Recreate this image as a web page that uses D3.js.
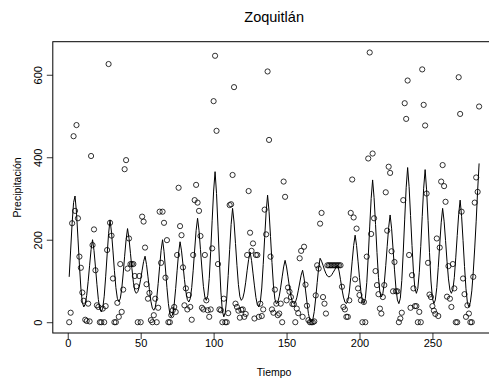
<!DOCTYPE html>
<html>
<head>
<meta charset="utf-8">
<script src="https://cdnjs.cloudflare.com/ajax/libs/d3/7.8.5/d3.min.js"></script>
<style>
body { margin: 0; background: #fff; }
svg { display: block; }
text { font-family: "Liberation Sans", Arial, sans-serif; fill: #000; }
</style>
</head>
<body>
<div id="chart"></div>
<script>
// monthly precipitation (observed), one value per time step
var precip = [
  0, 23, 240, 451, 270, 478, 252, 159, 132, 72,
  52, 6, 3, 45, 2, 403, 187, 225, 126, 41,
  37, 0, 0, 33, 0, 39, 175, 626, 241, 210,
  106, 0, 0, 47, 13, 141, 25, 79, 371, 393,
  130, 203, 141, 141, 141, 112, 87, 0, 112, 0,
  256, 244, 181, 92, 57, 71, 5, 0, 17, 57,
  0, 35, 268, 144, 268, 241, 108, 199, 0, 0,
  17, 29, 37, 25, 163, 326, 233, 211, 133, 41,
  82, 31, 66, 37, 6, 163, 296, 333, 290, 270,
  209, 35, 31, 163, 53, 29, 13, 31, 179, 536,
  646, 464, 141, 31, 29, 0, 57, 0, 0, 22,
  284, 286, 357, 570, 45, 37, 28, 11, 30, 31,
  13, 20, 163, 318, 217, 173, 191, 9, 163, 163,
  13, 45, 15, 31, 273, 213, 608, 442, 159, 31,
  23, 79, 45, 17, 21, 45, 0, 341, 304, 53,
  84, 74, 61, 44, 44, 0, 33, 22, 155, 173,
  13, 183, 91, 40, 5, 0, 0, 0, 2, 65,
  138, 130, 239, 265, 61, 45, 21, 138, 138, 138,
  138, 138, 138, 138, 138, 138, 138, 86, 37, 31,
  13, 13, 53, 265, 346, 254, 104, 227, 82, 66,
  53, 0, 49, 0, 159, 397, 654, 214, 409, 252,
  124, 90, 68, 33, 21, 61, 90, 315, 222, 377,
  362, 172, 75, 146, 75, 75, 0, 9, 23, 296,
  531, 493, 586, 163, 35, 114, 82, 39, 39, 0,
  25, 0, 613, 527, 477, 312, 144, 67, 61, 39,
  28, 20, 203, 15, 181, 341, 381, 330, 292, 62,
  136, 57, 37, 141, 82, 0, 0, 594, 505, 268,
  106, 68, 13, 41, 21, 0, 0, 110, 290, 351,
  316, 523
];

// fitted seasonal curve, same time steps
var fitted = [
  110, 175, 240, 290, 306,
  266, 204, 139, 83, 48, 37,
  44, 65, 99, 138, 176, 200,
  174, 134, 92, 55, 32, 25,
  34, 63, 110, 163, 215, 248,
  218, 173, 125, 84, 58, 50,
  57, 80, 117, 160, 200, 227,
  203, 167, 130, 97, 76, 70,
  74, 85, 104, 126, 147, 160,
  140, 110, 79, 51, 34, 29,
  36, 58, 94, 135, 174, 200,
  172, 129, 84, 45, 20, 13,
  20, 44, 82, 126, 168, 195,
  173, 140, 104, 74, 55, 49,
  57, 84, 126, 175, 222, 252,
  222, 176, 129, 87, 61, 53,
  65, 106, 172, 246, 318, 365,
  312, 231, 147, 73, 27, 13,
  24, 58, 113, 176, 237, 276,
  243, 191, 138, 91, 62, 53,
  58, 73, 97, 126, 152, 170,
  150, 119, 88, 60, 42, 37,
  48, 83, 140, 205, 267, 308,
  269, 208, 145, 90, 56, 45,
  49, 63, 85, 110, 134, 150,
  134, 110, 85, 63, 49, 45,
  48, 59, 76, 95, 114, 126,
  107, 78, 48, 21, 5, 0,
  6, 26, 59, 96, 132, 155,
  148, 138, 127, 118, 112, 110,
  111, 115, 121, 127, 134, 138,
  124, 103, 80, 61, 49, 45,
  52, 73, 108, 148, 186, 211,
  186, 148, 108, 73, 52, 45,
  57, 96, 159, 231, 300, 345,
  302, 237, 169, 109, 72, 61,
  69, 95, 137, 184, 230, 260,
  228, 178, 127, 82, 54, 45,
  58, 101, 170, 250, 326, 375,
  329, 259, 186, 122, 82, 70,
  82, 121, 184, 256, 325, 370,
  321, 247, 169, 100, 58, 45,
  54, 84, 133, 188, 241, 276,
  245, 198, 148, 105, 78, 70,
  79, 108, 156, 210, 262, 296,
  257, 198, 135, 81, 47, 37,
  48, 76, 122, 180, 245, 320,
  385
];

var xTicks = [0, 50, 100, 150, 200, 250];
var yTicks = [0, 200, 400, 600];
var title = "Zoquitlán";
var xLabel = "Tiempo";
var yLabel = "Precipitación";

var width = 489, height = 385;
// plot region (right edge runs past the window, as in the original)
var plotL = 52.8, plotR = 495.5, plotT = 41.7, plotB = 333;

var n = precip.length;
var data = precip.map(function(d, i) { return {t: i + 1, v: d, f: fitted[i]}; });

var svg = d3.select("#chart")
  .append("svg")
  .attr("width", width)
  .attr("height", height);

// R style 4% padding on both axes
var xr = n - 1;
var x = d3.scaleLinear()
  .domain([1 - 0.04 * xr, n + 0.04 * xr])
  .range([plotL, plotR]);

var ymax = d3.max(precip), ymin = d3.min(precip);
var yr = ymax - ymin;
var y = d3.scaleLinear()
  .domain([ymin - 0.04 * yr, ymax + 0.04 * yr])
  .range([plotB, plotT]);

// X axis
var gx = svg.append("g")
  .attr("transform", "translate(0," + plotB + ")")
  .call(d3.axisBottom(x).tickValues(xTicks).tickSize(6).tickSizeOuter(0).tickFormat(d3.format("d")));
gx.select(".domain").remove();
gx.selectAll(".tick line").attr("stroke", "#000").attr("stroke-width", 0.8);
gx.selectAll(".tick text")
  .attr("y", 13.5)
  .attr("dy", null)
  .style("font-size", "11px")
  .style("font-family", "Liberation Sans, Arial, sans-serif")
  .style("fill", "#000");

// Y axis
var gy = svg.append("g")
  .attr("transform", "translate(" + plotL + ",0)")
  .call(d3.axisLeft(y).tickValues(yTicks).tickSize(6).tickSizeOuter(0).tickFormat(d3.format("d")));
gy.select(".domain").remove();
gy.selectAll(".tick line").attr("stroke", "#000").attr("stroke-width", 0.8);
gy.selectAll(".tick text")
  .attr("x", 0)
  .attr("y", -11.3)
  .attr("dy", null)
  .attr("transform", "rotate(-90)")
  .attr("text-anchor", "middle")
  .style("font-size", "11px")
  .style("font-family", "Liberation Sans, Arial, sans-serif")
  .style("fill", "#000");

// box
svg.append("rect")
  .attr("x", plotL)
  .attr("y", plotT)
  .attr("width", plotR - plotL)
  .attr("height", plotB - plotT)
  .attr("fill", "none")
  .attr("stroke", "#000")
  .attr("stroke-width", 1);

// fitted line
var line = d3.line()
  .x(function(d) { return x(d.t); })
  .y(function(d) { return y(d.f); });

svg.append("path")
  .datum(data)
  .attr("d", line)
  .attr("fill", "none")
  .attr("stroke", "#000")
  .attr("stroke-width", 1);

// observed points
svg.selectAll("circle.obs")
  .data(data)
  .enter()
  .append("circle")
    .attr("class", "obs")
    .attr("cx", function(d) { return x(d.t); })
    .attr("cy", function(d) { return y(d.v); })
    .attr("r", 2.6)
    .attr("fill", "none")
    .attr("stroke", "#000")
    .attr("stroke-width", 0.8);

// titles
svg.append("text")
  .attr("x", (plotL + plotR) / 2)
  .attr("y", 21.5)
  .attr("text-anchor", "middle")
  .style("font-size", "14.5px")
  .style("fill", "#000")
  .text(title);

svg.append("text")
  .attr("x", (plotL + plotR) / 2)
  .attr("y", 375.5)
  .attr("text-anchor", "middle")
  .style("font-size", "10.5px")
  .style("fill", "#000")
  .text(xLabel);

svg.append("text")
  .attr("transform", "translate(21," + ((plotT + plotB) / 2) + ")rotate(-90)")
  .attr("text-anchor", "middle")
  .style("font-size", "10.5px")
  .style("fill", "#000")
  .text(yLabel);
</script>
</body>
</html>
